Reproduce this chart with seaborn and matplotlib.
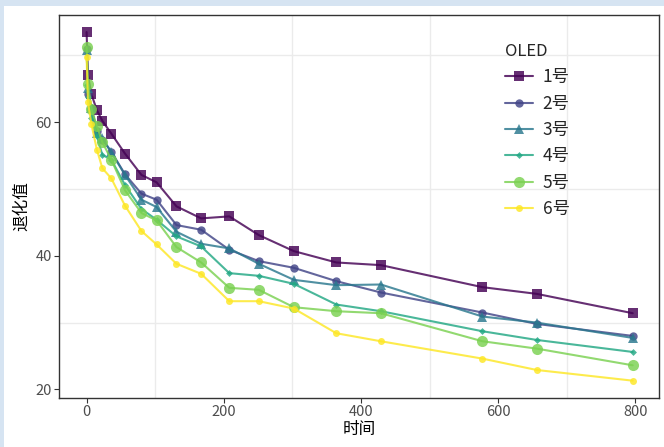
import numpy as np
import pandas as pd
import seaborn as sns
import matplotlib.pyplot as plt
from matplotlib.patches import Rectangle

# ---- data ----
times = [0, 2, 7, 15, 23, 36, 56, 80, 102, 131, 167, 208, 251, 302, 364, 429, 577, 656, 796]
s1 = [73.5, 67.0, 64.2, 61.8, 60.2, 58.3, 55.3, 52.1, 51.0, 47.4, 45.6, 45.9, 43.1, 40.7, 39.0, 38.6, 35.3, 34.3, 31.4]
s2 = [71.0, 64.2, 62.2, 58.7, 57.4, 55.6, 52.2, 49.3, 48.4, 44.6, 43.9, 40.9, 39.2, 38.2, 36.2, 34.5, 31.5, 29.8, 28.0]
s3 = [70.8, 65.1, 62.1, 58.4, 57.6, 55.5, 52.1, 48.4, 47.3, 43.6, 41.8, 41.1, 38.8, 36.4, 35.6, 35.7, 30.9, 30.0, 27.7]
s4 = [65.5, 63.8, 60.7, 57.9, 55.1, 54.4, 50.6, 47.0, 45.4, 42.9, 41.4, 37.4, 37.0, 35.8, 32.7, 31.7, 28.7, 27.4, 25.6]
s5 = [71.3, 65.7, 62.0, 59.4, 57.0, 54.4, 49.8, 46.4, 45.3, 41.3, 39.0, 35.2, 34.9, 32.3, 31.7, 31.4, 27.2, 26.1, 23.6]
s6 = [69.8, 63.0, 59.7, 55.9, 53.1, 51.6, 47.5, 43.7, 41.7, 38.8, 37.3, 33.2, 33.2, 32.1, 28.4, 27.2, 24.6, 22.9, 21.3]
labels = ["1号", "2号", "3号", "4号", "5号", "6号"]
series = [s1, s2, s3, s4, s5, s6]

colors = ["#440154", "#414487", "#2A788E", "#22A884", "#7AD151", "#FDE725"]
markers = ["s", "o", "^", "D", "o", "o"]
msizes = [7, 6, 7, 3.5, 8, 5]

sns.set_theme(style="white")
plt.rcParams['font.family'] = ['Noto Sans CJK SC', 'DejaVu Sans']

fig = plt.figure(figsize=(6.64, 4.47), dpi=100)
fig.patch.set_facecolor("#d6e4f2")
fig.patches.append(Rectangle((4 / 664, 0), 1, 1 - 6 / 447, transform=fig.transFigure,
                             facecolor="white", edgecolor="none", zorder=-10))
ax = fig.add_axes([0.0896, 0.1103, 0.9036, 0.8568])
ax.set_zorder(1)

rows = []
for lab, vals in zip(labels, series):
    for t, v in zip(times, vals):
        rows.append({"时间": t, "退化值": v, "OLED": lab})
df = pd.DataFrame(rows)

for lab, c, m, ms in zip(labels, colors, markers, msizes):
    sub = df[df["OLED"] == lab]
    sns.lineplot(data=sub, x="时间", y="退化值", color=c, marker=m, markersize=ms,
                 markeredgewidth=0, linewidth=1.5, alpha=0.82, label=lab, ax=ax)

ax.set_xlim(-39.5, 835)
ax.set_ylim(18.75, 76.1)
ax.set_xticks([0, 200, 400, 600, 800])
ax.set_yticks([20, 40, 60])
for v in [100, 300, 500, 700]:
    ax.axvline(v, color="#EBEBEB", lw=1.0, zorder=0)
for v in [30, 50, 70]:
    ax.axhline(v, color="#EBEBEB", lw=1.0, zorder=0)
ax.tick_params(axis="both", which="major", length=3.5, width=0.8, color="#333333",
               labelsize=10.5, labelcolor="#4D4D4D", pad=2, bottom=True, left=True)
for sp in ax.spines.values():
    sp.set_color("#333333")
    sp.set_linewidth(1.0)
ax.set_xlabel("时间", fontsize=12, color="black", labelpad=1)
ax.set_ylabel("退化值", fontsize=12, color="black", labelpad=4)

leg = ax.legend(title="OLED", loc="upper left", bbox_to_anchor=(0.717, 0.967), frameon=False,
                fontsize=12.5, title_fontsize=12, labelspacing=0.48, handlelength=1.6,
                handletextpad=0.55, alignment="left")
for h in leg.legend_handles:
    h.set_alpha(0.82)

fig.savefig("out.png", dpi=100, facecolor=fig.get_facecolor())
